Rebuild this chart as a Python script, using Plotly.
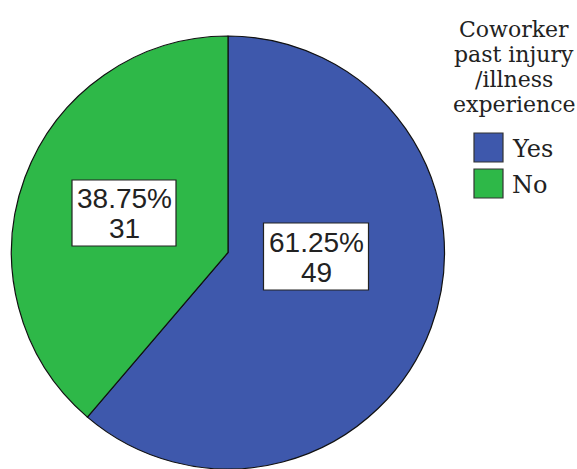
import plotly.graph_objects as go

# Coworker past injury / illness experience
categories = ["Yes", "No"]
counts = [49, 31]
colors = ["#3E58AC", "#2EB848"]
legend_title_lines = ["Coworker", "past injury", "/illness", "experience"]

W, H = 577, 469


def px(x):
    return x / W


def py(y):
    return 1 - y / H


total = sum(counts)
pct_text = [f"{c / total * 100:.2f}%" for c in counts]

fig = go.Figure(
    go.Pie(
        labels=categories,
        values=counts,
        sort=False,
        direction="clockwise",
        rotation=0,
        marker=dict(colors=colors, line=dict(color="#111111", width=1.2)),
        textinfo="none",
        hoverinfo="label+value+percent",
        showlegend=False,
        domain=dict(x=[px(11), px(445)], y=[py(469), py(36)]),
    )
)

shapes = []
annotations = []

# value boxes: (box center x, box center y, width, height)
boxes = [(316, 256.5, 105, 67), (124, 213, 104, 66)]
for (cx, cy, bw, bh), p, c in zip(boxes, pct_text, counts):
    shapes.append(dict(
        type="rect", xref="paper", yref="paper",
        x0=px(cx - bw / 2), x1=px(cx + bw / 2),
        y0=py(cy + bh / 2), y1=py(cy - bh / 2),
        fillcolor="white", line=dict(color="#222222", width=1.2),
    ))
    for txt, dy in ((p, -14.5), (str(c), 15.5)):
        annotations.append(dict(
            text=txt, xref="paper", yref="paper",
            x=px(cx), y=py(cy + dy), xanchor="center", yanchor="middle",
            showarrow=False,
            font=dict(family="Liberation Sans, Arial", size=28, color="#222222"),
        ))

# legend title
for i, line in enumerate(legend_title_lines):
    annotations.append(dict(
        text=line, xref="paper", yref="paper",
        x=px(514), y=py(29 + 25 * i), xanchor="center", yanchor="middle",
        showarrow=False,
        font=dict(family="DejaVu Serif", size=22, color="#222222"),
    ))

# legend entries
for i, (cat, col) in enumerate(zip(categories, colors)):
    top = 133 + 36 * i
    shapes.append(dict(
        type="rect", xref="paper", yref="paper",
        x0=px(474), x1=px(503), y0=py(top + 29), y1=py(top),
        fillcolor=col, line=dict(color="#333333", width=1.2),
    ))
    annotations.append(dict(
        text=cat, xref="paper", yref="paper",
        x=px(510), y=py(top + 16), xanchor="left", yanchor="middle",
        showarrow=False,
        font=dict(family="DejaVu Serif", size=24, color="#222222"),
    ))

fig.update_layout(
    width=W, height=H,
    margin=dict(l=0, r=0, t=0, b=0),
    paper_bgcolor="white",
    plot_bgcolor="white",
    shapes=shapes,
    annotations=annotations,
)

fig.write_html("out.html")
